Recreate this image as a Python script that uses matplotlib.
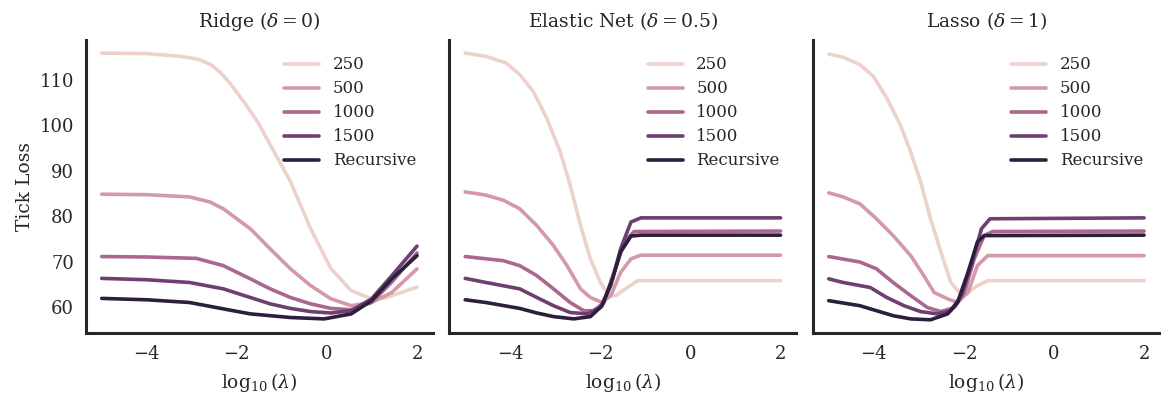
import numpy as np
import matplotlib
matplotlib.use("Agg")
import matplotlib.pyplot as plt
import seaborn as sns

# series labels
labels = ["250", "500", "1000", "1500", "Recursive"]
titles = [r"Ridge ($\delta=0$)", r"Elastic Net ($\delta=0.5$)", r"Lasso ($\delta=1$)"]

# Ridge panel (log10 lambda, tick loss)
ridge_x = {
    "250": [-5, -4, -3.26, -2.87, -2.58, -2.35, -2.13, -1.82, -1.52, -1.3, -0.81, -0.36, 0.09, 0.54, 0.99, 1.3, 2],
    "500": [-5, -4, -3.05, -2.6, -2.3, -1.7, -1.26, -0.81, -0.36, 0.09, 0.54, 0.99, 1.44, 2],
    "1000": [-5, -4, -2.9, -2.3, -1.7, -1.26, -0.81, -0.36, 0.09, 0.54, 0.99, 1.44, 2],
    "1500": [-5, -4, -3.05, -2.3, -1.7, -1.26, -0.81, -0.36, 0.09, 0.54, 0.99, 1.44, 2],
    "Recursive": [-5, -4, -3.05, -2.3, -1.7, -0.81, -0.06, 0.54, 0.99, 1.44, 2],
}
ridge_y = {
    "250": [115.8, 115.7, 115.1, 114.5, 113.3, 111.4, 108.9, 104.8, 100.4, 96.4, 87.6, 77.2, 68.4, 63.6, 61.8, 62.0, 64.4],
    "500": [84.8, 84.7, 84.2, 83.1, 81.6, 77.2, 72.8, 68.4, 64.7, 61.8, 60.3, 61.0, 63.2, 68.4],
    "1000": [71.1, 71.0, 70.7, 69.1, 66.2, 64.0, 62.1, 60.7, 59.7, 59.4, 61.0, 65.5, 71.9],
    "1500": [66.3, 66.0, 65.4, 64.0, 62.1, 60.7, 59.7, 59.0, 58.7, 59.2, 61.8, 66.9, 73.4],
    "Recursive": [61.9, 61.6, 61.0, 59.6, 58.5, 57.7, 57.4, 58.5, 61.4, 66.2, 71.3],
}

# Elastic Net panel
enet_x = {
    "250": [-5, -4.54, -4.09, -3.79, -3.49, -3.19, -2.89, -2.67, -2.44, -2.22, -2.0, -1.81, -1.66, -1.4, -1.17, 2],
    "500": [-5, -4.54, -4.16, -3.79, -3.41, -3.04, -2.74, -2.44, -2.22, -1.96, -1.77, -1.55, -1.32, -1.1, 2],
    "1000": [-5, -4.16, -3.79, -3.41, -3.04, -2.67, -2.37, -2.15, -1.92, -1.7, -1.47, -1.25, 2],
    "1500": [-5, -4.54, -3.79, -3.41, -3.04, -2.67, -2.29, -2.0, -1.77, -1.55, -1.32, -1.1, 2],
    "Recursive": [-5, -4.54, -3.79, -3.41, -3.04, -2.59, -2.22, -1.96, -1.73, -1.55, -1.32, -1.1, 2],
}
enet_y = {
    "250": [115.8, 115.1, 113.6, 111.1, 107.4, 101.5, 94.1, 86.8, 77.9, 70.6, 65.4, 62.5, 62.5, 64.3, 65.8, 65.8],
    "500": [85.3, 84.6, 83.5, 81.6, 77.9, 73.5, 69.1, 64.0, 62.1, 61.0, 62.5, 67.6, 70.6, 71.4, 71.4],
    "1000": [71.1, 70.2, 69.1, 66.9, 64.0, 61.0, 59.2, 59.2, 61.0, 67.6, 74.3, 76.6, 76.7],
    "1500": [66.3, 65.4, 64.0, 62.1, 60.3, 58.8, 58.5, 59.9, 64.7, 72.8, 78.7, 79.6, 79.6],
    "Recursive": [61.6, 61.0, 59.7, 58.7, 57.9, 57.4, 57.9, 60.3, 66.2, 72.1, 75.6, 75.8, 75.8],
}

# Lasso panel
lasso_x = {
    "250": [-5, -4.68, -4.31, -4.01, -3.71, -3.41, -3.18, -2.96, -2.74, -2.51, -2.29, -2.1, -1.95, -1.7, -1.47, 2],
    "500": [-5, -4.68, -4.31, -3.94, -3.57, -3.18, -2.89, -2.66, -2.36, -2.14, -1.91, -1.7, -1.47, 2],
    "1000": [-5, -4.31, -3.94, -3.57, -3.18, -2.81, -2.51, -2.21, -1.99, -1.77, -1.55, -1.36, 2],
    "1500": [-5, -4.68, -4.08, -3.71, -3.33, -2.96, -2.59, -2.29, -2.06, -1.84, -1.61, -1.42, 2],
    "Recursive": [-5, -4.31, -3.94, -3.57, -3.18, -2.74, -2.36, -2.14, -1.91, -1.7, -1.55, 2],
}
lasso_y = {
    "250": [115.6, 114.9, 113.3, 110.7, 105.9, 100.0, 94.1, 87.5, 79.4, 72.1, 65.4, 63.2, 62.9, 64.7, 65.8, 65.8],
    "500": [85.1, 84.2, 82.7, 79.4, 75.7, 71.3, 66.9, 63.2, 61.8, 61.0, 63.2, 69.1, 71.3, 71.3],
    "1000": [71.1, 69.9, 68.4, 65.4, 62.5, 59.9, 59.0, 59.9, 63.2, 70.6, 75.7, 76.6, 76.7],
    "1500": [66.2, 65.4, 64.3, 62.1, 60.3, 59.0, 58.5, 59.2, 62.5, 69.1, 77.2, 79.4, 79.6],
    "Recursive": [61.4, 60.3, 59.2, 58.1, 57.4, 57.2, 58.5, 61.0, 67.6, 74.3, 75.7, 75.8],
}

panels = [(ridge_x, ridge_y), (enet_x, enet_y), (lasso_x, lasso_y)]

sns.set_style("white")
plt.rcParams["font.family"] = ["DejaVu Serif"]
plt.rcParams["mathtext.fontset"] = "dejavuserif"

colors = sns.cubehelix_palette(len(labels))

fig, axes = plt.subplots(1, 3, figsize=(11.61, 3.98), dpi=100, sharey=True)
fig.subplots_adjust(left=0.074, right=0.999, top=0.90, bottom=0.163, wspace=0.048)

for ax, title, (px, py) in zip(axes, titles, panels):
    for lab, c in zip(labels, colors):
        ax.plot(px[lab], py[lab], color=c, lw=2.6, label=lab, solid_capstyle="round")
    ax.set_title(title, fontsize=13.5, pad=9)
    ax.set_xlabel(r"$\log_{10}(\lambda)$", fontsize=13.5, labelpad=6)
    ax.set_xticks([-4, -2, 0, 2])
    ax.tick_params(labelsize=13, pad=5)
    for s in ["top", "right"]:
        ax.spines[s].set_visible(False)
    for s in ["left", "bottom"]:
        ax.spines[s].set_linewidth(2.2)
        ax.spines[s].set_color("#262626")
    ax.legend(loc="upper right", frameon=False, fontsize=12, handlelength=2.1,
              labelspacing=0.42, borderaxespad=0.6)

axes[0].set_ylabel("Tick Loss", fontsize=13.5)
axes[0].set_yticks([60, 70, 80, 90, 100, 110])

plt.savefig("out.png", dpi=100)
